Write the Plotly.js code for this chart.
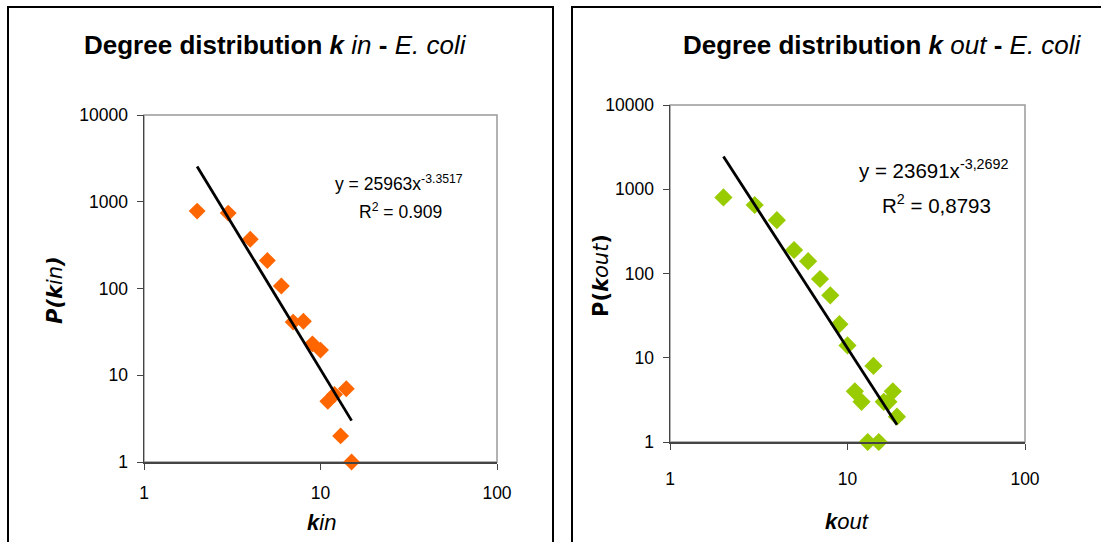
<!DOCTYPE html>
<html>
<head>
<meta charset="utf-8">
<script src="https://cdn.plot.ly/plotly-3.0.1.min.js"></script>
<style>
html,body{margin:0;padding:0;background:#fff;}
#chart{width:1101px;height:542px;}
</style>
</head>
<body>
<div id="chart"></div>
<script>
// ---- data ----
var kinX = [2, 3, 4, 5, 6, 7, 8, 9, 10, 11, 12, 13, 14, 15];
var kinP = [780, 740, 370, 210, 107, 41, 42, 23, 19.5, 5, 6, 2, 7, 1];
var kinTrendX = [2, 15];
var kinTrendP = [2550, 3.0];

var koutX = [2, 3, 4, 5, 6, 7, 8, 9, 10, 11, 12, 13, 14, 15, 16, 17, 18, 19];
var koutP = [800, 650, 430, 190, 140, 86, 55, 25, 14, 4, 3, 1, 8, 1, 3, 3, 4, 2];
var koutTrendX = [2, 19];
var koutTrendP = [2450, 1.6];

var xTickVals = [1, 10, 100];
var xTickText = ['1', '10', '100'];
var yTickVals = [1, 10, 100, 1000, 10000];
var yTickText = ['1', '10', '100', '1000', '10000'];

var eqIn = 'y = 25963x<sup>-3.3517</sup>';
var r2In = 'R<sup>2</sup> = 0.909';
var eqOut = 'y = 23691x<sup>-3,2692</sup>';
var r2Out = 'R<sup>2</sup> = 0,8793';

// ---- layout ----
var W = 1101, H = 542;
function px(x){ return x / W; }
function py(y){ return 1 - y / H; }

var FONT = 'Liberation Sans, Arial, sans-serif';
var tickFont = {family: FONT, size: 17.5, color: '#000'};

function xAxis(domain, standoff, anchor){
  return {
    type: 'log', range: [0, 2], domain: domain, anchor: anchor,
    tickvals: xTickVals, ticktext: xTickText,
    ticks: 'outside', ticklen: 6, tickcolor: '#444', tickwidth: 1,
    showline: true, linecolor: '#444', linewidth: 1.5,
    showgrid: false, zeroline: false,
    tickfont: tickFont, ticklabelstandoff: standoff, fixedrange: true
  };
}
function yAxis(domain, anchor){
  return {
    type: 'log', range: [0, 4], domain: domain, anchor: anchor,
    tickvals: yTickVals, ticktext: yTickText,
    ticks: 'outside', ticklen: 6, tickcolor: '#444', tickwidth: 1,
    showline: true, linecolor: '#444', linewidth: 1.5,
    showgrid: false, zeroline: false,
    tickfont: tickFont, ticklabelstandoff: 5, fixedrange: true
  };
}

var traces = [
  {x: kinX, y: kinP, xaxis: 'x', yaxis: 'y', mode: 'markers', type: 'scatter',
   marker: {symbol: 'diamond', size: 13, color: '#FF6600'}, cliponaxis: false, hoverinfo: 'x+y'},
  {x: kinTrendX, y: kinTrendP, xaxis: 'x', yaxis: 'y', mode: 'lines', type: 'scatter',
   line: {color: '#000', width: 2.8}},
  {x: koutX, y: koutP, xaxis: 'x2', yaxis: 'y2', mode: 'markers', type: 'scatter',
   marker: {symbol: 'diamond', size: 14, color: '#99CC00'}, cliponaxis: false, hoverinfo: 'x+y'},
  {x: koutTrendX, y: koutTrendP, xaxis: 'x2', yaxis: 'y2', mode: 'lines', type: 'scatter',
   line: {color: '#000', width: 2.8}}
];

var dom1x = [px(144), px(497)], dom1y = [py(462), py(115)];
var dom2x = [px(670), px(1025)], dom2y = [py(442), py(105)];

function ann(x, y, text, size, extra){
  var a = {xref: 'paper', yref: 'paper', x: px(x), y: py(y), showarrow: false,
           xanchor: 'center', yanchor: 'middle', text: text,
           font: {family: FONT, size: size, color: '#000'}};
  if (extra) for (var k in extra) a[k] = extra[k];
  return a;
}

var layout = {
  width: W, height: H,
  margin: {l: 0, r: 0, t: 0, b: 0},
  paper_bgcolor: '#fff', plot_bgcolor: 'rgba(0,0,0,0)',
  showlegend: false,
  font: {family: FONT, color: '#000'},
  xaxis: xAxis(dom1x, 8, 'y'),
  yaxis: yAxis(dom1y, 'x'),
  xaxis2: xAxis(dom2x, 14, 'y2'),
  yaxis2: yAxis(dom2y, 'x2'),
  shapes: [
    // panel frames
    {type: 'rect', xref: 'paper', yref: 'paper', x0: px(8), x1: px(553), y0: -0.1, y1: py(7),
     line: {color: '#000', width: 2}, layer: 'below'},
    {type: 'rect', xref: 'paper', yref: 'paper', x0: px(572), x1: 1.1, y0: -0.1, y1: py(7),
     line: {color: '#000', width: 2}, layer: 'below'},
    // plot-area borders
    {type: 'rect', xref: 'paper', yref: 'paper', x0: dom1x[0], x1: dom1x[1], y0: dom1y[0], y1: dom1y[1],
     line: {color: '#999', width: 1.5}, layer: 'below'},
    {type: 'rect', xref: 'paper', yref: 'paper', x0: dom2x[0], x1: dom2x[1], y0: dom2y[0], y1: dom2y[1],
     line: {color: '#999', width: 1.5}, layer: 'below'}
  ],
  annotations: [
    ann(275, 45, '<b>Degree distribution <i>k</i></b> <i>in</i> <b>-</b> <i>E. coli</i>', 26),
    ann(882, 45, '<b>Degree distribution <i>k</i></b> <i>out</i> <b>-</b> <i>E. coli</i>', 26),
    ann(321, 522, '<b><i>k</i></b><i>in</i>', 22),
    ann(847, 521, '<b><i>k</i></b><i>out</i>', 22),
    ann(55, 290, '<b><i>P(k</i></b><i>in</i><b><i>)</i></b>', 21, {textangle: -90,
        font: {family: 'DejaVu Sans, sans-serif', size: 21, color: '#000'}}),
    ann(601, 276, '<b>P(<i>k</i></b><i>out</i><b>)</b>', 21, {textangle: -90,
        font: {family: 'DejaVu Sans, sans-serif', size: 21, color: '#000'}}),
    ann(399, 183, eqIn, 17.5),
    ann(400, 211, r2In, 17.5),
    ann(934, 169, eqOut, 20.5),
    ann(936, 204, r2Out, 20.5)
  ]
};

Plotly.newPlot('chart', traces, layout, {displayModeBar: false, staticPlot: true});
</script>
</body>
</html>
